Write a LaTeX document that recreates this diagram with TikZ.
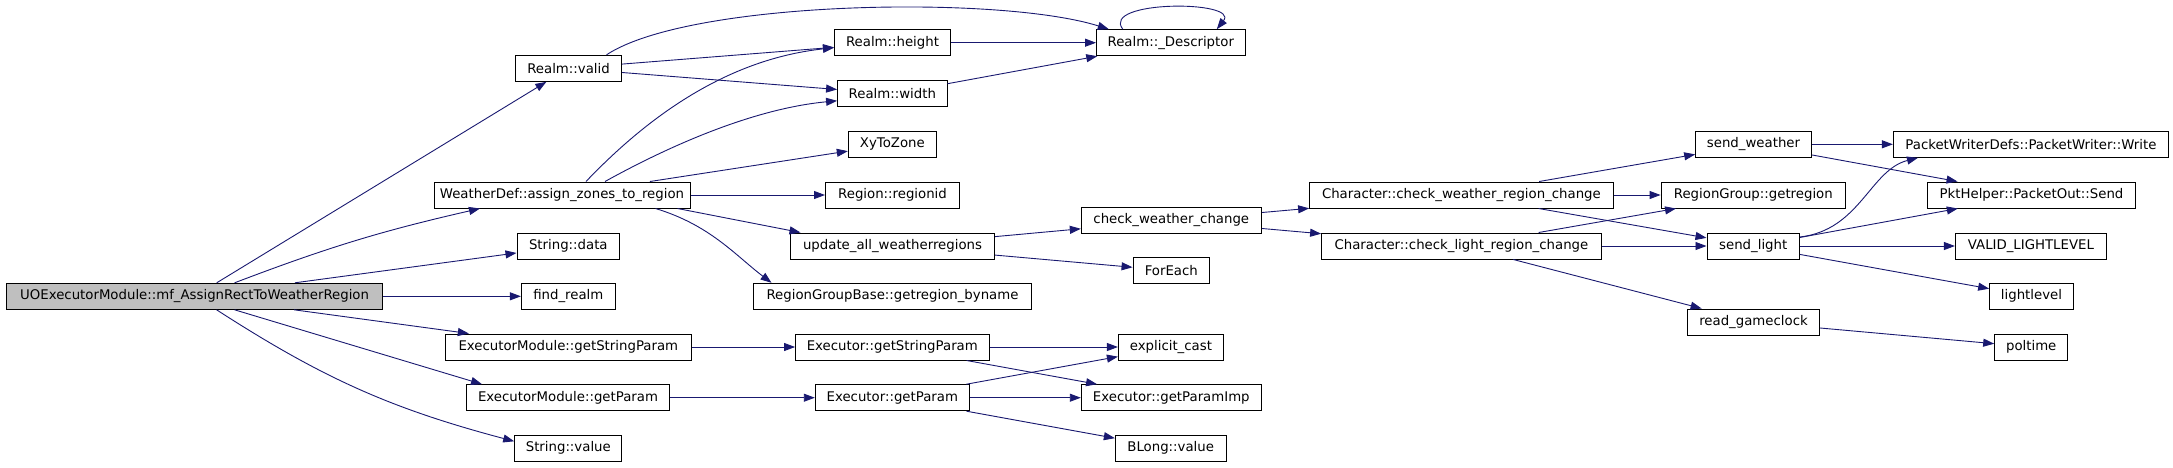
\documentclass[tikz,border=0pt]{standalone}
\usepackage{fontspec}
\setmainfont{DejaVu Sans}
\usetikzlibrary{arrows.meta}
\definecolor{edgeblue}{HTML}{191970}
\definecolor{callergray}{HTML}{BFBFBF}
\tikzset{
  fn/.style={draw=black,line width=1pt,fill=white,inner sep=0pt,minimum height=26pt,font=\fontsize{13.3}{15}\selectfont},
  caller/.style={fn,fill=callergray},
  call/.style={draw=edgeblue,line width=0.9pt,-{Triangle[length=11pt,width=8pt]}}
}

\begin{document}
\begin{tikzpicture}[x=1pt,y=-1pt]
\useasboundingbox (0,0) rectangle (2173,467);

%the function itself
\node[caller,minimum width=376.7] (uoexec) at (194.6,296.3) {UOExecutorModule::mf\_AssignRectToWeatherRegion};

%first level
\node[fn,minimum width=105.8] (valid) at (568.5,68.3) {Realm::valid};
\node[fn,minimum width=256] (assign) at (562,195) {WeatherDef::assign\_zones\_to\_region};
\node[fn,minimum width=102.6] (sdata) at (568.3,246) {String::data};
\node[fn,minimum width=93.8] (findrealm) at (568.3,296.3) {find\_realm};
\node[fn,minimum width=245.5] (emstr) at (568.3,347) {ExecutorModule::getStringParam};
\node[fn,minimum width=203] (emparam) at (568,397.7) {ExecutorModule::getParam};
\node[fn,minimum width=107.2] (svalue) at (568.3,448.3) {String::value};

%second level
\node[fn,minimum width=116] (height) at (892.5,42.7) {Realm::height};
\node[fn,minimum width=109.4] (width) at (892.3,93.8) {Realm::width};
\node[fn,minimum width=88] (xytozone) at (892.3,144.3) {XyToZone};
\node[fn,minimum width=134] (regionid) at (892.5,195) {Region::regionid};
\node[fn,minimum width=204.4] (updateall) at (892.5,246) {update\_all\_weatherregions};
\node[fn,minimum width=277.6] (byname) at (892.5,296.3) {RegionGroupBase::getregion\_byname};
\node[fn,minimum width=193.4] (exstr) at (892.3,347) {Executor::getStringParam};
\node[fn,minimum width=154] (exparam) at (892.3,397.7) {Executor::getParam};

%third level
\node[fn,minimum width=148.5] (descriptor) at (1170.8,42.7) {Realm::\_Descriptor};
\node[fn,minimum width=180] (cwchange) at (1171.3,220.5) {check\_weather\_change};
\node[fn,minimum width=76.5] (foreach) at (1171.3,270.7) {ForEach};
\node[fn,minimum width=105] (explicit) at (1170.9,347) {explicit\_cast};
\node[fn,minimum width=180] (paramimp) at (1171.3,397.7) {Executor::getParamImp};
\node[fn,minimum width=110.7] (blong) at (1170.7,448.3) {BLong::value};

%fourth level
\node[fn,minimum width=303.5] (charweather) at (1461.4,195) {Character::check\_weather\_region\_change};
\node[fn,minimum width=279.6] (charlight) at (1461.4,246) {Character::check\_light\_region\_change};

%fifth level
\node[fn,minimum width=115.6] (sendweather) at (1753.5,144.3) {send\_weather};
\node[fn,minimum width=184.5] (getregion) at (1753.3,195) {RegionGroup::getregion};
\node[fn,minimum width=92.4] (sendlight) at (1753.2,246) {send\_light};
\node[fn,minimum width=131.6] (gameclock) at (1753.5,322) {read\_gameclock};

%last level
\node[fn,minimum width=275] (write) at (2030.9,144.3) {PacketWriterDefs::PacketWriter::Write};
\node[fn,minimum width=208] (send) at (2031.5,195) {PktHelper::PacketOut::Send};
\node[fn,minimum width=151] (validlight) at (2030.9,246) {VALID\_LIGHTLEVEL};
\node[fn,minimum width=83.7] (lightlevel) at (2031.5,296.3) {lightlevel};
\node[fn,minimum width=73] (poltime) at (2031.2,347) {poltime};

%straight calls
\foreach \a/\b in {uoexec/valid,uoexec/sdata,uoexec/findrealm,uoexec/emstr,
  valid/height,valid/width,assign/xytozone,assign/regionid,
  height/descriptor,width/descriptor,updateall/cwchange,updateall/foreach,
  cwchange/charweather,cwchange/charlight,charweather/sendweather,
  charweather/getregion,charweather/sendlight,charlight/getregion,
  charlight/sendlight,charlight/gameclock,sendweather/write,sendweather/send,
  sendlight/send,sendlight/validlight,sendlight/lightlevel,gameclock/poltime,
  emstr/exstr,emparam/exparam,exstr/explicit,exstr/paramimp,
  exparam/explicit,exparam/paramimp,exparam/blong}
  \draw[call] (\a) -- (\b);

%bent calls
\draw[call] ([xshift=40]uoexec.north) to[bend left=4] ([xshift=-82]assign.south);
\draw[call] ([xshift=40]uoexec.south) -- ([xshift=-86]emparam.north);
\draw[call] ([xshift=22]uoexec.south) to[bend right=9] ([yshift=7]svalue.west);
\draw[call] ([xshift=38]valid.north) .. controls (690,0) and (1000,-5) .. ([xshift=-62]descriptor.north);
\draw[call] ([xshift=-48]descriptor.north) .. controls (1100,0) and (1240,0) .. ([xshift=46]descriptor.north);
\draw[call] ([xshift=24]assign.north) .. controls (640,125) and (720,60) .. ([yshift=-5]height.west);
\draw[call] ([xshift=43]assign.north) .. controls (680,140) and (760,108) .. ([yshift=-7]width.west);
\draw[call] ([xshift=-13]assign.south east) -- ([xshift=-92]updateall.north);
\draw[call] ([xshift=-35]assign.south east) .. controls (710,225) and (735,255) .. ([xshift=-121]byname.north);
\draw[call] ([yshift=9]sendlight.east) .. controls (1860,230) and (1870,170) .. ([xshift=-113]write.south);
\end{tikzpicture}
\end{document}
